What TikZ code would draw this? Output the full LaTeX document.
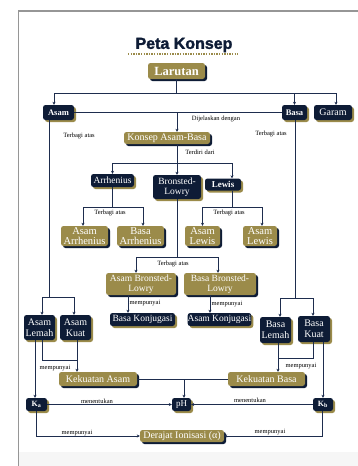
\documentclass[tikz,border=0pt]{standalone}
\usepackage{fontspec}
\setmainfont{Liberation Serif}
\newfontfamily\titlefont{Liberation Sans}[FakeBold=1.6]
\usetikzlibrary{arrows.meta,shadows,calc}
\definecolor{navy}{RGB}{14,28,54}
\definecolor{gold}{RGB}{155,139,74}
\definecolor{lnc}{RGB}{30,45,78}
\definecolor{framec}{RGB}{150,150,150}
\definecolor{pageg}{RGB}{246,246,246}
\newcommand\myfs[2]{\fontsize{#1}{#2}\selectfont}
\begin{document}
\begin{tikzpicture}[x=1pt,y=-1pt,
  box/.style={rounded corners=2.5pt, align=center, text=white, inner sep=0pt, font=\myfs{10}{10}},
  gbox/.style={box, fill=gold, general shadow={fill=navy, shadow xshift=2pt, shadow yshift=-2pt}},
  nbox/.style={box, fill=navy, general shadow={fill=gold, shadow xshift=2pt, shadow yshift=-2pt}},
  sz/.style 2 args={minimum width=#1pt, minimum height=#2pt},
  ln/.style={draw=lnc, line width=0.8pt},
  arr/.style={ln, -{Stealth[length=3pt,width=3pt]}},
  lbl/.style={font=\myfs{6.5}{7}, inner sep=0pt, text=black}]
\useasboundingbox (0,0) rectangle (358,466);
\fill[white] (0,0) rectangle (358,466);
\fill[pageg] (19,452) rectangle (358,466);
\draw[framec, line width=1.8pt] (18.5,466) -- (18.5,11) -- (358,11);

% title
\node[font=\titlefont\bfseries\myfs{16}{18}, text=navy, inner sep=0pt] (title) at (184,45) {Peta Konsep};
\draw[gold, line width=1.4pt, dash pattern=on 1.4pt off 1.2pt] (128,54) -- (238,54);

% nodes
\node[gbox, sz={57}{16}, font=\bfseries\myfs{12.5}{13}] (lar) at (176.5,71) {Larutan};
\node[nbox, sz={31}{15}, font=\bfseries\myfs{8.5}{9}] (asam) at (58.5,112.5) {Asam};
\node[nbox, sz={25}{15}, font=\bfseries\myfs{8.5}{9}] (basa) at (294.5,112.5) {Basa};
\node[nbox, sz={38}{15}] (garam) at (333,112.5) {Garam};
\node[gbox, sz={86}{12}] (konsep) at (167,138) {Konsep Asam-Basa};
\node[nbox, sz={43}{13}, font=\myfs{9.5}{10}] (arrh) at (112.5,180.5) {Arrhenius};
\node[nbox, sz={48}{24}, font=\myfs{9.5}{10.5}] (bl) at (177,187) {Bronsted-\\Lowry};
\node[nbox, sz={36}{12}, font=\bfseries\myfs{9}{9}] (lewis) at (223,184.5) {Lewis};
\node[gbox, sz={47}{20}, font=\myfs{10.5}{10}] (aarr) at (84.5,236) {Asam\\Arrhenius};
\node[gbox, sz={47}{20}, font=\myfs{10.5}{10}] (barr) at (140.5,236) {Basa\\Arrhenius};
\node[gbox, sz={35}{20}, font=\myfs{10.5}{10}] (alew1) at (202.5,236) {Asam\\Lewis};
\node[gbox, sz={34}{20}, font=\myfs{10.5}{10}] (alew2) at (260,236) {Asam\\Lewis};
\node[gbox, sz={70}{22}, font=\myfs{9.5}{10.5}] (abl) at (141,284) {Asam Bronsted-\\Lowry};
\node[gbox, sz={72}{22}, font=\myfs{9.5}{10.5}] (bbl) at (220,284) {Basa Bronsted-\\Lowry};
\node[nbox, sz={65}{13}, font=\myfs{9.5}{10}] (bkonj) at (142.5,319.5) {Basa Konjugasi};
\node[nbox, sz={63}{13}, font=\myfs{9.5}{10}] (akonj) at (219.5,319.5) {Asam Konjugasi};
\node[nbox, sz={31}{25}, font=\myfs{10}{10.5}] (alemah) at (39.5,327.5) {Asam\\Lemah};
\node[nbox, sz={31}{25}, font=\myfs{10}{10.5}] (akuat) at (75.5,327.5) {Asam\\Kuat};
\node[nbox, sz={31}{26}, font=\myfs{10}{10.5}] (blemah) at (275.5,330) {Basa\\Lemah};
\node[nbox, sz={32}{26}, font=\myfs{10}{10.5}] (bkuat) at (314,329) {Basa\\Kuat};
\node[gbox, sz={78}{14}] (kasam) at (98,379) {Kekuatan Asam};
\node[gbox, sz={77}{14}] (kbasa) at (266.5,379) {Kekuatan Basa};
\node[nbox, sz={19}{13}, font=\myfs{9}{9}] (ph) at (181.5,404.5) {pH};
\node[nbox, sz={21}{13}, font=\bfseries\myfs{8}{8}] (ka) at (36.5,404.5) {K\textsubscript{a}};
\node[nbox, sz={20}{13}, font=\bfseries\myfs{8}{8}] (kb) at (323,404.5) {K\textsubscript{b}};
\node[gbox, sz={84}{12}] (deraj) at (182,436) {Derajat Ionisasi (α)};

% connectors
\coordinate (j1) at (176.5,93);
\draw[ln] (lar.south) -- (j1);
\draw[arr] (j1) -| ([xshift=-4.5pt]asam.north);
\draw[arr] (j1) -| (basa.north);
\draw[arr] (j1) -| ([xshift=3pt]garam.north);

\draw[ln] (asam.east) -- (basa.west);
\coordinate (j2) at (177,112.5);
\draw[arr] (j2) -- (j2 |- konsep.north);

\coordinate (j3) at (49,297);
\draw[ln] (asam.south -| j3) -- (j3);
\draw[arr] (j3) -| ([xshift=2.5pt]alemah.north);
\draw[arr] (j3) -| ([xshift=-1.5pt]akuat.north);

\coordinate (j4) at (295,298);
\draw[ln] (basa.south -| j4) -- (j4);
\draw[arr] (j4) -| ([xshift=4.5pt]blemah.north);
\draw[arr] (j4) -| ([xshift=-1pt]bkuat.north);

\coordinate (j5) at (177,163);
\draw[ln] (konsep.south -| j5) -- (j5);
\draw[arr] (j5) -| (arrh.north);
\draw[arr] (j5) -- (bl.north);
\draw[arr] (j5) -| ([xshift=9pt]lewis.north);

\coordinate (j6) at (112.5,207);
\draw[ln] (arrh.south) -- (j6);
\draw[arr] (j6) -| ([xshift=-1.5pt]aarr.north);
\draw[arr] (j6) -| ([xshift=2.5pt]barr.north);

\coordinate (j7) at (232,207);
\draw[ln] (lewis.south -| j7) -- (j7);
\draw[arr] (j7) -| (alew1.north);
\draw[arr] (j7) -| ([xshift=2pt]alew2.north);

\coordinate (j8) at (177,257);
\draw[ln] (bl.south) -- (j8);
\draw[arr] (j8) -| ([xshift=-5pt]abl.north);
\draw[arr] (j8) -| ([xshift=-2pt]bbl.north);

\draw[arr] ([xshift=-13pt]abl.south) -- ([xshift=-13pt]abl.south |- bkonj.north);
\draw[arr] ([xshift=-10pt]bbl.south) -- ([xshift=-10pt]bbl.south |- akonj.north);

\draw[arr] ([xshift=-4.5pt]alemah.south) -- ([xshift=-4.5pt]alemah.south |- ka.north);
\coordinate (j9) at (77,360);
\draw[ln] ([xshift=2.5pt]alemah.south) |- (j9);
\draw[arr] ([xshift=1.5pt]akuat.south) -- ([xshift=1.5pt]akuat.south |- kasam.north);

\draw[ln] (kasam.east) -- (kbasa.west);
\coordinate (j10) at (184,379);
\draw[arr] (j10) -- (j10 |- ph.north);

\draw[arr] ([xshift=2.5pt]blemah.south) -- ([xshift=2.5pt]blemah.south |- kbasa.north);
\coordinate (j11) at (278,358);
\draw[ln] ([xshift=-1pt]bkuat.south) |- (j11);
\draw[arr] ([xshift=9pt]bkuat.south) -- ([xshift=9pt]bkuat.south |- kb.north);

\draw[arr] (ka.east) -- (ph.west);
\draw[arr] (kb.west) -- (ph.east);

\draw[arr] ([xshift=-0.5pt]ka.south) |- (deraj.west);
\draw[arr] ([xshift=-1pt]kb.south) |- (deraj.east);

% labels
\node[lbl] (l1) at (216,119) {Dijelaskan dengan};
\node[lbl] (l2) at (79,136) {Terbagi atas};
\node[lbl] (l3) at (271,134) {Terbagi atas};
\node[lbl] (l4) at (200,152) {Terdiri dari};
\node[lbl] (l5) at (110,213) {Terbagi atas};
\node[lbl] (l6) at (229,213) {Terbagi atas};
\node[lbl] (l7) at (173,264) {Terbagi atas};
\node[lbl] (l8) at (145,303) {mempunyai};
\node[lbl] (l9) at (227,304) {mempunyai};
\node[lbl] (l10) at (55,368) {mempunyai};
\node[lbl] (l11) at (301,366) {mempunyai};
\node[lbl] (l12) at (97,401) {menentukan};
\node[lbl] (l13) at (250,400) {menentukan};
\node[lbl] (l14) at (77,433) {mempunyai};
\node[lbl] (l15) at (270,432) {mempunyai};
\end{tikzpicture}
\end{document}
